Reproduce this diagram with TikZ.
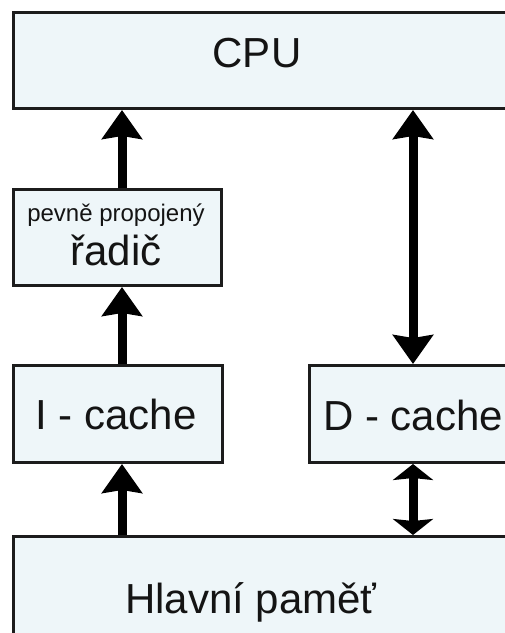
\documentclass[tikz,border=0pt]{standalone}
\usepackage{fontspec}
\setmainfont{Liberation Sans}
\usetikzlibrary{arrows.meta}
\definecolor{boxfill}{RGB}{238,246,249}
\definecolor{edge}{RGB}{28,28,28}
\begin{document}
\begin{tikzpicture}[x=1pt,y=-1pt,
  unit/.style={draw=edge, line width=3pt, fill=boxfill, rectangle,
    inner sep=0pt, anchor=north west},
  lbl/.style={font=\fontsize{42}{48}\selectfont, inner sep=0pt, text=black!92},
  lblsmall/.style={font=\fontsize{24}{28}\selectfont, inner sep=0pt, text=black!92},
  bighead/.tip={Stealth[width=40pt,length=29pt,inset=3pt]},
  smallhead/.tip={Stealth[width=40pt,length=16pt,inset=2pt]},
  bus/.style={draw=black, line width=9pt, -bighead},
  busboth/.style={draw=black, line width=9pt, bighead-bighead},
  busshort/.style={draw=black, line width=9pt, smallhead-smallhead},
]
\useasboundingbox (0,0) rectangle (505,633);
\clip (0,0) rectangle (505,633);
\fill[white] (0,0) rectangle (505,633);

% blocks
\node[unit, minimum width=518pt, minimum height=96pt] (cpu) at (12,11) {};
\node[unit, minimum width=208pt, minimum height=96pt] (ctrl) at (12,188) {};
\node[unit, minimum width=209pt, minimum height=97pt] (icache) at (12,364) {};
\node[unit, minimum width=222pt, minimum height=97pt] (dcache) at (308,364) {};
\node[unit, minimum width=518pt, minimum height=120pt] (mem) at (12,535) {};

% labels
\node[lbl, anchor=base] (cpuT) at (257,67) {CPU};
\node[lblsmall, anchor=base] (ctrlT1) at (116,221) {pevně propojený};
\node[lbl, anchor=base] (ctrlT2) at (116,265) {řadič};
\node[lbl, anchor=base] (icacheT) at (116,429) {I - cache};
\node[lbl, anchor=base west] (dcacheT) at (323,430) {D - cache};
\node[lbl, anchor=base] (memT) at (251,613) {Hlavní paměť};

% connection points
\coordinate (cpuL) at (cpu.south west -| 122,0);
\coordinate (cpuR) at (cpu.south west -| 413,0);
\coordinate (ctrlTop) at (ctrl.north west -| 122,0);
\coordinate (ctrlBot) at (ctrl.south west -| 122,0);
\coordinate (icTop) at (icache.north west -| 122,0);
\coordinate (icBot) at (icache.south west -| 122,0);
\coordinate (dcTop) at (dcache.north west -| 413,0);
\coordinate (dcBot) at (dcache.south west -| 413,0);
\coordinate (memL) at (mem.north west -| 122,0);
\coordinate (memR) at (mem.north west -| 413,0);

% buses
\draw[bus] (ctrlTop) -- (cpuL);
\draw[bus] (icTop) -- (ctrlBot);
\draw[bus] (memL) -- (icBot);
\draw[busboth] (cpuR) -- (dcTop);
\draw[busshort] (dcBot) -- (memR);
\end{tikzpicture}
\end{document}
